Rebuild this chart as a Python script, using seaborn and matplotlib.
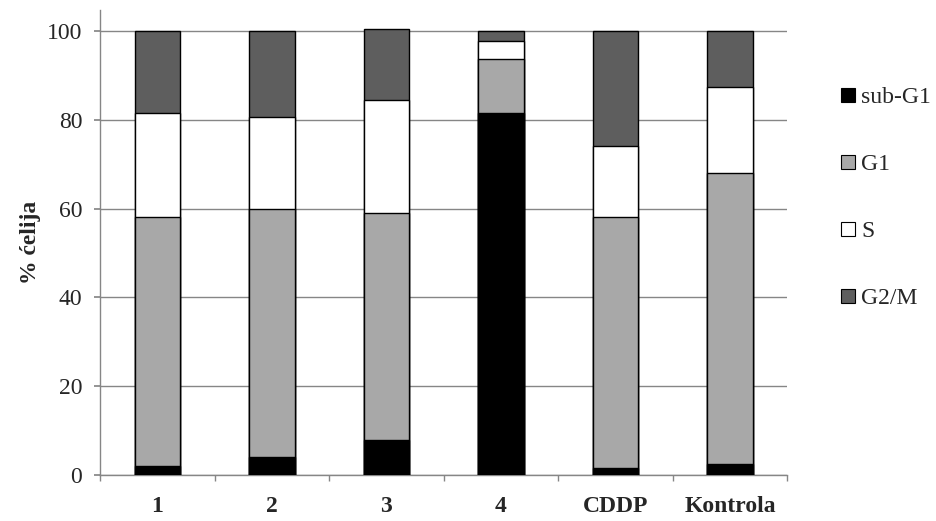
import pandas as pd
import seaborn as sns
import numpy as np
import matplotlib.pyplot as plt
from matplotlib.lines import Line2D
from matplotlib.ticker import FixedLocator

# procenti celija po fazi ciklusa (ocitano sa slike)
grupe = ['1', '2', '3', '4', 'CDDP', 'Kontrola']
sub_g1 = [2.0, 4.0, 8.0, 81.6, 1.5, 2.6]
g1 = [56.0, 56.0, 51.0, 12.0, 56.5, 65.4]
s_faza = [23.5, 20.5, 25.5, 4.0, 16.0, 19.3]
g2m = [18.5, 19.5, 16.0, 2.4, 26.0, 12.7]

faze = ['sub-G1', 'G1', 'S', 'G2/M']
boje = ['#000000', '#a8a8a8', '#ffffff', '#5e5e5e']

df = pd.DataFrame({'grupa': grupe, 'sub-G1': sub_g1, 'G1': g1, 'S': s_faza, 'G2/M': g2m})
kum = df[faze].cumsum(axis=1)
kum['grupa'] = df['grupa']

sns.set_theme(style='white', font='Liberation Serif')
plt.rcParams['font.family'] = ['Liberation Serif', 'DejaVu Serif']
FONT = 'Liberation Serif'

fig = plt.figure(figsize=(9.36, 5.21), dpi=100)
ax = fig.add_axes([0.107, 0.088, 0.734, 0.893])

# crtamo kumulativne stubice od vrha ka dnu
for faza, boja in reversed(list(zip(faze, boje))):
    sns.barplot(data=kum, x='grupa', y=faza, order=grupe, color=boja,
                width=0.4, edgecolor='black', linewidth=1, saturation=1, ax=ax, zorder=3)

ax.set_ylim(0, 104.7)
ax.set_xlim(-0.5, 5.5)
ax.set_yticks(np.arange(0, 101, 20))
ax.yaxis.grid(True, color='#868686', linewidth=1)
ax.set_axisbelow(True)
for s in ['top', 'right']:
    ax.spines[s].set_visible(False)
for s in ['left', 'bottom']:
    ax.spines[s].set_color('#868686')
    ax.spines[s].set_linewidth(1)

ax.xaxis.set_minor_locator(FixedLocator(np.arange(-0.5, 6, 1)))
ax.tick_params(axis='x', which='major', length=0, labelsize=17, pad=15)
ax.tick_params(axis='x', which='minor', length=4, color='#868686', direction='out', bottom=True)
ax.tick_params(axis='y', length=4.3, color='#868686', direction='out', labelsize=17, pad=8.5, left=True)
for lab in ax.get_xticklabels():
    lab.set_fontweight('bold')
    lab.set_family(FONT)
for lab in ax.get_yticklabels():
    lab.set_family(FONT)

ax.set_xlabel('')
ax.set_ylabel('% ćelija', fontsize=17, fontweight='bold', labelpad=4, family=FONT)

rucke = [Line2D([0], [0], marker='s', linestyle='none', markersize=9.5,
                markerfacecolor=b, markeredgecolor='black', markeredgewidth=0.8)
         for b in boje]
leg = ax.legend(rucke, faze, loc='upper left', bbox_to_anchor=(1.065, 0.855), frameon=False,
                handlelength=0.6, handletextpad=0.25, labelspacing=1.92,
                borderaxespad=0, prop={'family': FONT, 'size': 17})

plt.savefig('out.png', dpi=100)
